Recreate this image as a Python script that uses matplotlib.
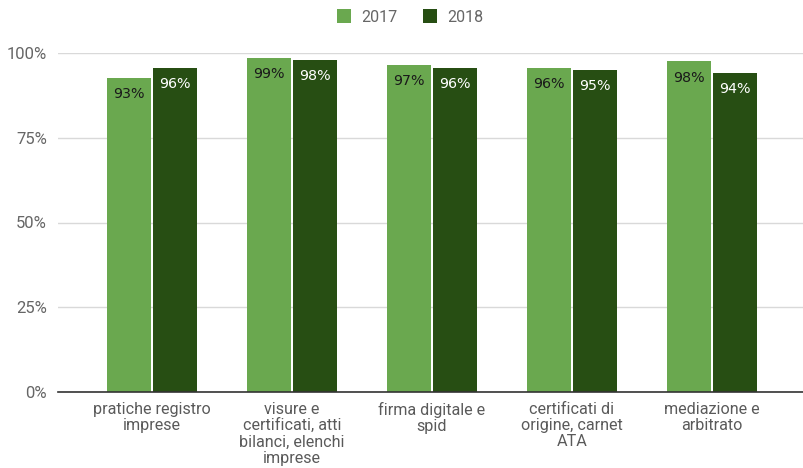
import matplotlib.pyplot as plt
import numpy as np

categories = [
    "pratiche registro\nimprese",
    "visure e\ncertificati, atti\nbilanci, elenchi\nimprese",
    "firma digitale e\nspid",
    "certificati di\norigine, carnet\nATA",
    "mediazione e\narbitrato",
]
years = ["2017", "2018"]
values_2017 = [92.6, 98.6, 96.6, 95.6, 97.5]
values_2018 = [95.7, 97.9, 95.7, 95.0, 94.0]

colors = ["#6aa84f", "#274e13"]
label_colors = ["#1a1a1a", "white"]


def main():
    fig = plt.figure(figsize=(8.04, 4.68), dpi=100)
    ax = fig.add_axes([58 / 804, 1 - 392 / 468, 746 / 804, 339 / 468])

    x = np.arange(len(categories))
    width = 0.315
    offsets = [-0.163, 0.163]
    bars = []
    for series, off, color, lc in zip([values_2017, values_2018], offsets, colors, label_colors):
        b = ax.bar(x + off, series, width=width, color=color, zorder=3)
        bars.append(b)
        for rect, v in zip(b, series):
            ax.annotate(f"{v:.0f}%", xy=(rect.get_x() + rect.get_width() / 2, v),
                        xytext=(0, -6.5), textcoords="offset points",
                        ha="center", va="top", fontsize=10.3, color=lc,
                        family="DejaVu Sans", zorder=4)

    ax.set_xlim(-0.671, 4.657)
    ax.set_ylim(0, 100)
    ax.set_yticks([0, 25, 50, 75, 100])
    ax.set_yticklabels(["0%", "25%", "50%", "75%", "100%"], family="Roboto",
                       fontsize=12, color="#666666")
    ax.set_xticks(x)
    ax.set_xticklabels(categories, family="Roboto", fontsize=11.6, color="#5a5a5a",
                       linespacing=1.1)
    ax.tick_params(length=0, axis="both")
    ax.tick_params(axis="y", pad=8)
    ax.tick_params(axis="x", pad=7)
    ax.grid(axis="y", color="#d9d9d9", lw=1, zorder=0)
    for side in ["top", "right", "left"]:
        ax.spines[side].set_visible(False)
    ax.spines["bottom"].set_color("#333333")
    ax.spines["bottom"].set_linewidth(1.2)
    ax.spines["bottom"].set_zorder(5)

    leg = fig.legend([b[0] for b in bars], years, loc="center", bbox_to_anchor=(0.51, 1 - 17 / 468),
                     ncol=2, frameon=False, handlelength=0.9, handleheight=0.9,
                     handletextpad=0.6, columnspacing=1.6,
                     prop={"family": "Roboto", "size": 11.5})
    for t in leg.get_texts():
        t.set_color("#666666")

    fig.savefig("out.png", dpi=100)
    plt.close(fig)


if __name__ == "__main__":
    main()
